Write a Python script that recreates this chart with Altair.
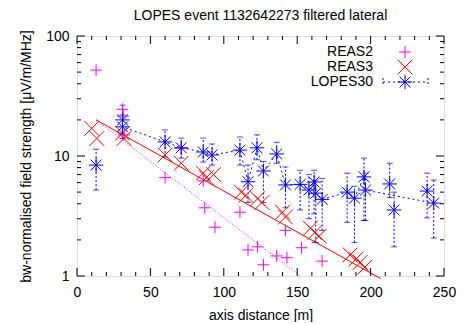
import altair as alt
import pandas as pd

# ---------------- data ----------------
reas2_x = [13, 31, 31.5, 32, 60, 71, 86, 87, 94, 111, 116.5, 123, 127, 136, 143, 142, 153, 167]
reas2_y = [52, 24.5, 21.5, 15, 6.6, 11.6, 6.2, 3.7, 2.55, 3.4, 1.65, 1.75, 1.24, 1.47, 1.42, 2.4, 1.72, 1.33]

reas3_x = [10, 13.5, 31, 32, 60, 71, 86, 88, 93, 112, 115, 123, 126, 140, 142, 159, 162, 165, 186, 190, 193, 196]
reas3_y = [17, 14, 15.5, 14, 10.2, 8.7, 7.2, 6.6, 7.0, 5.0, 4.7, 4.4, 4.1, 3.4, 3.1, 2.5, 2.3, 2.15, 1.5, 1.38, 1.3, 1.18]

lopes_x = [13, 31, 31, 60, 71, 86, 92, 111, 116.5, 122.6, 127, 136, 142, 152, 158, 161.5, 162.6, 167,
           184, 189, 195.5, 196.5, 213, 216, 238.5, 243]
lopes_y = [8.4, 20.0, 17.5, 13.1, 11.7, 10.8, 10.2, 11.2, 6.1, 11.7, 7.5, 10.4, 5.74, 5.8, 5.2, 6.07, 4.9, 4.35,
           5.0, 4.45, 6.7, 5.2, 5.85, 3.55, 5.1, 4.05]
lopes_lo = [5.2, 15.5, 14.0, 9.8, 9.6, 8.9, 8.4, 8.4, 4.1, 9.3, 4.1, 8.7, 3.7, 3.55, 3.0, 3.3, 1.9, 2.4,
            2.8, 1.9, 2.9, 2.9, 4.5, 1.75, 3.05, 2.07]
lopes_hi = [11.4, 26.5, 22.0, 16.5, 14.1, 14.1, 12.6, 14.4, 8.4, 15.0, 9.0, 13.0, 8.1, 7.6, 7.0, 7.6, 6.3, 6.5,
            7.2, 5.6, 9.6, 7.2, 8.7, 5.0, 7.2, 6.3]
lopes_on_line = [False, True, True, True, True, True, True, True, True, True, True, True, True, True, True, True,
                 True, True, True, True, True, True, False, False, False, True]

fit3_x = [13, 207]
fit3_y = [20, 0.95]
fit2_x = [13, 152]
fit2_y = [20, 1.0]

x_major = [0, 50, 100, 150, 200, 250]
x_minor = [10, 20, 30, 40, 60, 70, 80, 90, 110, 120, 130, 140, 160, 170, 180, 190, 210, 220, 230, 240]
y_major = [1, 10, 100]
y_minor = [2, 3, 4, 5, 6, 7, 8, 9, 20, 30, 40, 50, 60, 70, 80, 90]

legend_labels = ["REAS2", "REAS3", "LOPES30"]
chart_title = ["LOPES event 1132642273 filtered lateral"]

# ---------------- styling ----------------
W, H = 367, 240
FONT = "Liberation Sans"
MAG, RED, BLUE = "#ff00ff", "#ff0000", "#0000ff"
PLUS = "M-1,0L1,0M0,-1L0,1"
CROSS = "M-1,-1L1,1M-1,1L1,-1"
STAR = "M-1,0L1,0M0,-1L0,1M-0.75,-0.75L0.75,0.75M-0.75,0.75L0.75,-0.75"
S_PLUS, S_CROSS, S_STAR = 140, 215, 210

x_axis = alt.Axis(values=x_major, ticks=False, tickSize=0, domain=False, grid=False, labelFlush=False,
                  labelFont=FONT, labelFontSize=14, labelColor="black", labelPadding=9,
                  title="axis distance [m]", titleFont=FONT, titleFontSize=14,
                  titleFontWeight="normal", titleColor="black", titlePadding=9)
y_axis = alt.Axis(values=y_major, format="d", ticks=False, tickSize=0, domain=False, grid=False,
                  labelFlush=False,
                  labelFont=FONT, labelFontSize=14, labelColor="black", labelPadding=8,
                  title="bw-normalised field strength [\u03bcV/m/MHz]", titleFont=FONT, titleFontSize=14,
                  titleFontWeight="normal", titleColor="black", titlePadding=12)
xs = alt.Scale(domain=[0, 250], nice=False, zero=False)
ys = alt.Scale(type="log", domain=[1, 100], nice=False)


def X(f="x"):
    return alt.X(f"{f}:Q", scale=xs, axis=x_axis)


def Y(f="y"):
    return alt.Y(f"{f}:Q", scale=ys, axis=y_axis)


reas2 = pd.DataFrame({"x": reas2_x, "y": reas2_y})
reas3 = pd.DataFrame({"x": reas3_x, "y": reas3_y})
lopes = pd.DataFrame({"x": lopes_x, "y": lopes_y, "lo": lopes_lo, "hi": lopes_hi, "on": lopes_on_line})
lopes_line = lopes[lopes["on"]].sort_values("x")
fit3 = pd.DataFrame({"x": fit3_x, "y": fit3_y})
fit2 = pd.DataFrame({"x": fit2_x, "y": fit2_y})
xmaj = pd.DataFrame({"x": x_major})
xmin = pd.DataFrame({"x": x_minor})
ymaj = pd.DataFrame({"y": y_major})
ymin = pd.DataFrame({"y": y_minor})

layers = []
layers.append(alt.Chart(fit2).mark_line(color=MAG, strokeWidth=1, strokeDash=[1, 2]).encode(x=X(), y=Y()))
layers.append(alt.Chart(fit3).mark_line(color=RED, strokeWidth=1).encode(x=X(), y=Y()))
layers.append(alt.Chart(lopes_line).mark_line(color=BLUE, strokeWidth=1, strokeDash=[2, 3]).encode(
    x=X(), y=Y(), order="x:Q"))
layers.append(alt.Chart(lopes).mark_rule(color=BLUE, strokeWidth=1, strokeDash=[2, 2]).encode(
    x=X(), y=Y("lo"), y2="hi:Q"))
layers.append(alt.Chart(lopes).mark_tick(color=BLUE, orient="horizontal", size=6, thickness=1).encode(
    x=X(), y=Y("lo")))
layers.append(alt.Chart(lopes).mark_tick(color=BLUE, orient="horizontal", size=6, thickness=1).encode(
    x=X(), y=Y("hi")))
layers.append(alt.Chart(reas2).mark_point(shape=PLUS, size=S_PLUS, stroke=MAG, strokeWidth=1, filled=False,
                                          opacity=1).encode(x=X(), y=Y()))
layers.append(alt.Chart(reas3).mark_point(shape=CROSS, size=S_CROSS, stroke=RED, strokeWidth=1, filled=False,
                                          opacity=1).encode(x=X(), y=Y()))
layers.append(alt.Chart(lopes).mark_point(shape=STAR, size=S_STAR, stroke=BLUE, strokeWidth=1, filled=False,
                                          opacity=1).encode(x=X(), y=Y()))

# inward ticks on all four sides
MAJ, MIN = 8, 4
for df, ln in ((xmaj, MAJ), (xmin, MIN)):
    layers.append(alt.Chart(df).mark_rule(color="black", strokeWidth=1).encode(
        x=X(), y=alt.value(H), y2=alt.value(H - ln)))
    layers.append(alt.Chart(df).mark_rule(color="black", strokeWidth=1).encode(
        x=X(), y=alt.value(0), y2=alt.value(ln)))
for df, ln in ((ymaj, MAJ), (ymin, MIN)):
    layers.append(alt.Chart(df).mark_rule(color="black", strokeWidth=1).encode(
        y=Y(), x=alt.value(0), x2=alt.value(ln)))
    layers.append(alt.Chart(df).mark_rule(color="black", strokeWidth=1).encode(
        y=Y(), x=alt.value(W), x2=alt.value(W - ln)))

# title as a text mark above the plot
layers.append(alt.Chart(pd.DataFrame({"t": chart_title})).mark_text(
    align="center", baseline="alphabetic", font=FONT, fontSize=14, color="black").encode(
    text="t:N", x=alt.value(W / 2), y=alt.value(-16)))

# key (top right, gnuplot style: text then sample)
key_rows = [16, 31, 46]
key_text_x, key_sym_x = 296, 328
leg = pd.DataFrame({"label": legend_labels})
for i, (lab, shp, col, sz) in enumerate(zip(legend_labels, [PLUS, CROSS, STAR], [MAG, RED, BLUE],
                                            [S_PLUS, S_CROSS, S_STAR])):
    row = leg.iloc[[i]]
    layers.append(alt.Chart(row).mark_text(align="right", baseline="middle", font=FONT, fontSize=14,
                                           color="black").encode(
        text="label:N", x=alt.value(key_text_x), y=alt.value(key_rows[i])))
    if lab == "LOPES30":
        layers.append(alt.Chart(row).mark_rule(color=BLUE, strokeWidth=1, strokeDash=[2, 3]).encode(
            x=alt.value(306), x2=alt.value(351), y=alt.value(key_rows[i])))
        for ex in (306, 351):
            layers.append(alt.Chart(row).mark_rule(color=BLUE, strokeWidth=1, strokeDash=[2, 2]).encode(
                x=alt.value(ex), y=alt.value(key_rows[i] - 4), y2=alt.value(key_rows[i] + 4)))
    layers.append(alt.Chart(row).mark_point(shape=shp, size=sz, stroke=col, strokeWidth=1, filled=False,
                                            opacity=1).encode(
        x=alt.value(key_sym_x), y=alt.value(key_rows[i])))

chart = alt.layer(*layers).properties(
    width=W, height=H,
    autosize=alt.AutoSizeParams(type="none"),
    padding={"left": 69, "top": 28, "right": 12, "bottom": 46},
).configure_view(stroke="black", strokeWidth=1).configure(background="white")

chart.save("out.html", embed_options={"renderer": "svg", "actions": False})
